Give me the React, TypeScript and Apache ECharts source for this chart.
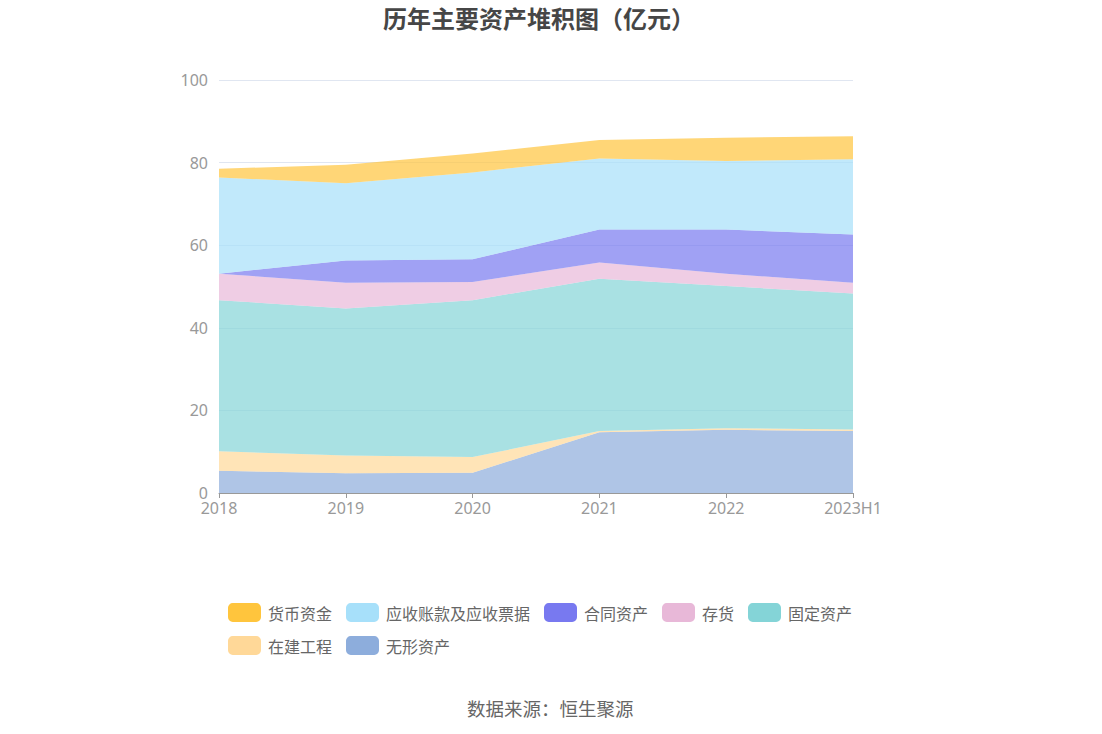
import React, { useEffect, useRef } from "react";
import * as echarts from "echarts";

const categories = ["2018", "2019", "2020", "2021", "2022", "2023H1"];
const seriesNames = ["货币资金", "应收账款及应收票据", "合同资产", "存货", "固定资产", "在建工程", "无形资产"];
const cash = [2.1, 4.5, 4.6, 4.5, 5.6, 5.6];
const receivables = [23.3, 18.7, 21.0, 17.2, 16.6, 18.2];
const contractAssets = [0, 5.4, 5.5, 8.0, 10.7, 11.7];
const inventory = [6.4, 6.2, 4.4, 3.9, 3.0, 2.6];
const fixedAssets = [36.6, 35.6, 38.0, 36.9, 34.4, 32.9];
const construction = [4.7, 4.3, 3.8, 0.3, 0.4, 0.4];
const intangible = [5.4, 4.8, 4.9, 14.7, 15.3, 15.0];
const yTicks = { min: 0, max: 100, interval: 20 };

const colors = ["#FFC53D", "#A7E0FA", "#7879F0", "#E8B8D8", "#84D4D7", "#FFD898", "#8DADDC"];

export default function App() {
  const ref = useRef<HTMLDivElement>(null);
  useEffect(() => {
    if (!ref.current) return;
    const chart = echarts.init(ref.current, null, { renderer: "svg" });
    const values = [cash, receivables, contractAssets, inventory, fixedAssets, construction, intangible];
    // stack bottom-up: 无形资产 first
    const order = [6, 5, 4, 3, 2, 1, 0];
    const series = order.map((i) => ({
      name: seriesNames[i],
      type: "line",
      stack: "total",
      data: values[i],
      symbol: "none",
      lineStyle: { width: 0 },
      areaStyle: { color: colors[i], opacity: 0.7 },
      itemStyle: { color: colors[i] },
      z: 2,
    }));
    chart.setOption({
      animation: false,
      title: {
        text: "历年主要资产堆积图（亿元）",
        left: 378,
        top: 0,
        padding: [5, 5, 5, 5],
        textStyle: { fontSize: 24, fontWeight: "bold", color: "#464646", fontFamily: "Noto Sans CJK SC" },
      },
      legend: {
        data: seriesNames,
        left: 223,
        top: 598,
        width: 690,
        itemWidth: 33,
        itemHeight: 19,
        itemGap: 14,
        icon: "roundRect",
        textStyle: { fontSize: 16, color: "#666", fontFamily: "Noto Sans CJK SC", padding: [0, 0, 0, 2] },
      },
      grid: { left: 219, right: 249, top: 80, bottom: 241 },
      xAxis: {
        type: "category",
        boundaryGap: false,
        data: categories,
        axisLine: { lineStyle: { color: "#999" } },
        axisTick: { alignWithLabel: true, lineStyle: { color: "#999" } },
        axisLabel: { fontSize: 16, color: "#999", margin: 7, fontFamily: "Noto Sans" },
      },
      yAxis: {
        type: "value",
        min: yTicks.min,
        max: yTicks.max,
        interval: yTicks.interval,
        axisLine: { show: false },
        axisTick: { show: false },
        splitLine: { lineStyle: { color: "#E0E6F1" } },
        axisLabel: { fontSize: 16, color: "#999", margin: 11, fontFamily: "Noto Sans" },
      },
      graphic: [
        {
          type: "text",
          left: 467,
          top: 699,
          style: { text: "数据来源：恒生聚源", fontSize: 18.5, fill: "#666", fontFamily: "Noto Sans CJK SC" },
        },
      ],
      series,
    });
    return () => chart.dispose();
  }, []);
  return (
    <div
      ref={ref}
      style={{ position: "fixed", left: 0, top: 0, width: 1102, height: 734, background: "#fff" }}
    />
  );
}
